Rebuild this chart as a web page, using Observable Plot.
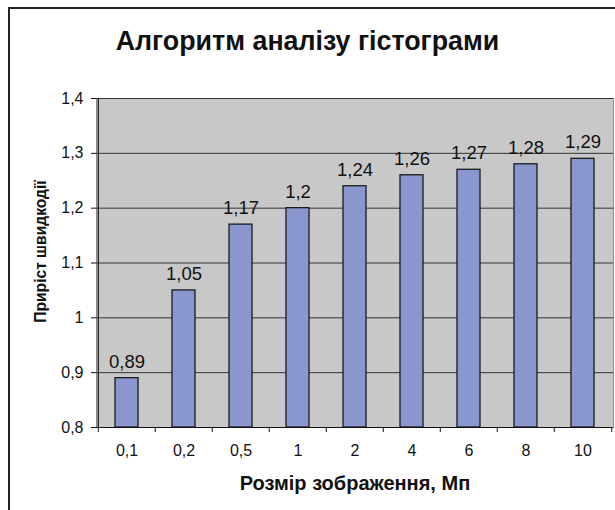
<!DOCTYPE html>
<html><head><meta charset="utf-8">
<script src="https://cdn.jsdelivr.net/npm/d3@7"></script>
<script src="https://cdn.jsdelivr.net/npm/@observablehq/plot@0.6"></script>
<style>
body{margin:0;background:#fff;}
#wrap{position:relative;width:615px;height:510px;overflow:hidden;font-family:"Liberation Sans",Arial,sans-serif;}
#border{position:absolute;left:8px;top:7px;width:700px;height:600px;border-left:2px solid #222;border-top:2px solid #222;}
#title{position:absolute;left:0;top:26px;width:615px;text-align:center;font-size:26.8px;line-height:30px;font-weight:bold;color:#111;}
#chart{position:absolute;left:0;top:0;}
</style></head>
<body><div id="wrap"><div id="border"></div><div id="chart"></div><div id="title"></div></div>
<script>
const title = "Алгоритм аналізу гістограми";
const yLabel = "Приріст швидкодії";
const xLabel = "Розмір зображення, Мп";
const categories = ["0,1","0,2","0,5","1","2","4","6","8","10"];
const values = [0.89, 1.05, 1.17, 1.2, 1.24, 1.26, 1.27, 1.28, 1.29];
const yTicks = [0.8, 0.9, 1.0, 1.1, 1.2, 1.3, 1.4];

const data = categories.map((c, i) => ({cat: c, v: values[i]}));
const comma = d => String(+(+d).toFixed(2)).replace(".", ",");

const W = 615, H = 510, mL = 96, mR = 2, mT = 98, mB = 83;
const step = (W - mL - mR) / categories.length;

document.getElementById("title").textContent = title;

const plot = Plot.plot({
  width: W, height: H,
  marginLeft: mL, marginRight: mR, marginTop: mT, marginBottom: mB,
  style: {fontFamily: '"Liberation Sans", Arial, sans-serif', fontSize: "16px", color: "#111", background: "transparent"},
  x: {domain: categories, paddingInner: 0.6, paddingOuter: 0.3, axis: null},
  y: {domain: [0.8, 1.4], axis: null},
  marks: [
    Plot.frame({fill: "#c8c8c8", stroke: "#8c8c8c"}),
    Plot.gridY(yTicks, {stroke: "#333", strokeOpacity: 1, strokeWidth: 1}),
    Plot.barY(data, {x: "cat", y1: 0.8, y2: "v", fill: "#8a97cf", stroke: "#1a1a1a", strokeWidth: 1.3}),
    Plot.text(data, {x: "cat", y: "v", text: d => comma(d.v), dy: -16.5, fontSize: 18.5, fill: "#111"}),
    Plot.ruleX([categories[0]], {x: d => d, dx: -step / 2, y1: 0.8, y2: 1.4, stroke: "#111", strokeWidth: 1.2}),
    Plot.ruleY([0.8], {stroke: "#111", strokeWidth: 1.2}),
    Plot.ruleX(categories, {x: d => d, dx: -step / 2, y1: 0.8, y2: 0.8, insetBottom: -5, stroke: "#111"}),
    Plot.ruleX([categories[categories.length - 1]], {x: d => d, dx: step / 2, y1: 0.8, y2: 0.8, insetBottom: -5, stroke: "#111"}),
    Plot.axisY(yTicks, {tickSize: 5, tickPadding: 8, tickFormat: comma, fontSize: 16, stroke: "#111", label: null}),
    Plot.axisX({tickSize: 0, tickPadding: 17, fontSize: 16, label: null}),
    Plot.text([yLabel], {frameAnchor: "left", textAnchor: "middle", lineAnchor: "middle", dx: -56, dy: -11.5, rotate: -90, fontSize: 15.6, fontWeight: "bold", fill: "#111"}),
    Plot.text([xLabel], {frameAnchor: "bottom", dy: 62, fontSize: 20, fontWeight: "bold", fill: "#111"})
  ]
});
document.getElementById("chart").appendChild(plot);
</script>
</body></html>
